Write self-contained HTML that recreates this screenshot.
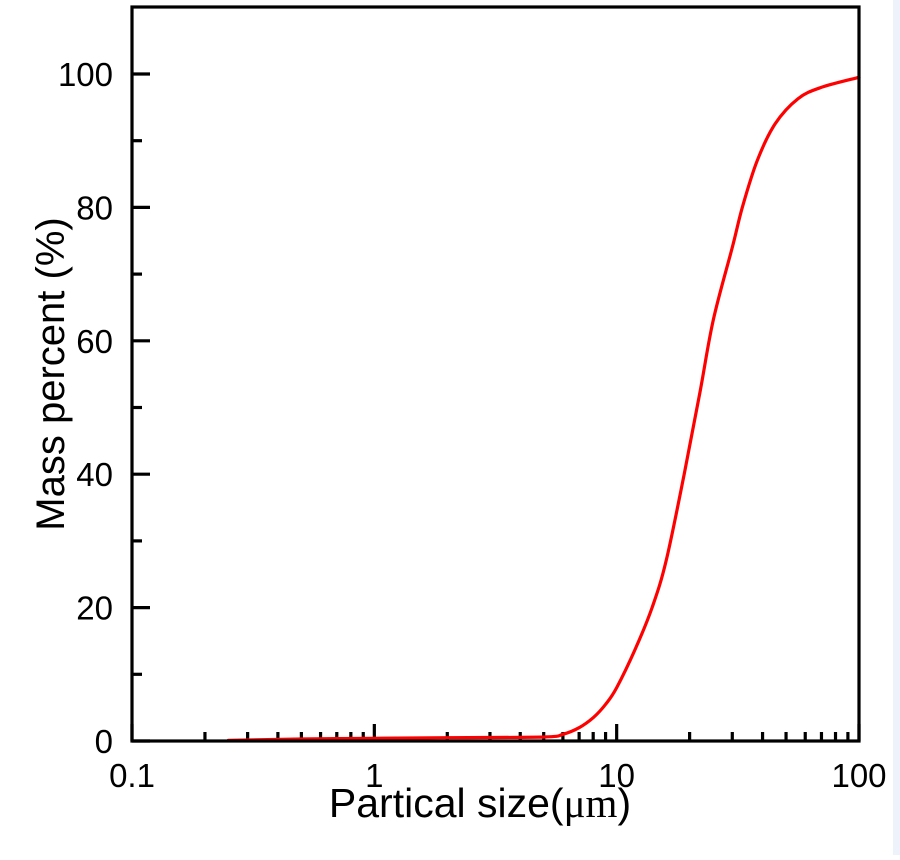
<!DOCTYPE html>
<html><head><meta charset="utf-8"><style>
html,body{margin:0;padding:0;background:#fff;}
svg text{font-family:"Liberation Sans",Arial,sans-serif;fill:#000;}
</style></head><body>
<svg width="900" height="855" viewBox="0 0 900 855" xmlns="http://www.w3.org/2000/svg">
<rect x="893" y="0" width="7" height="855" fill="#eef2fa"/>
<g id="ticks"></g>
<path id="curve" fill="none" stroke="#ff0000" stroke-width="3.2" stroke-linejoin="round" stroke-linecap="round"/>
<rect x="132" y="7" width="727" height="734" fill="none" stroke="#000" stroke-width="3.2"/>
<g id="labels"></g>
<text x="480" y="817" font-size="41" text-anchor="middle">Partical size(<tspan font-family="Liberation Serif,serif">μm</tspan>)</text>
<text transform="translate(64,374) rotate(-90)" font-size="40" text-anchor="middle">Mass percent (%)</text>
</svg>
<script>
const sizes=[0.25,0.5,1,2,5,6,7,8,9,10,12,14,16,19,22,25,30,33,38,45,56,70,100];
const massPercent=[0.1,0.3,0.4,0.5,0.6,1,2,3.5,5.5,8,14,20,27,40,52,63,74,80,87,92.5,96.3,98,99.5];
const xMajor=[0.1,1,10,100];
const xMajorLabels=["0.1","1","10","100"];
const yMajor=[0,20,40,60,80,100];
const yMinor=[10,30,50,70,90];
const L=132,R=859,B=741,T=7;
function xs(v){return L+(Math.log10(v)+1)/3*(R-L);}
function ys(v){return B-v/100*(B-74);}
const NS="http://www.w3.org/2000/svg";
const tg=document.getElementById('ticks'),lg=document.getElementById('labels');
function line(x1,y1,x2,y2,name){const l=document.createElementNS(NS,'line');l.setAttribute('x1',x1);l.setAttribute('y1',y1);l.setAttribute('x2',x2);l.setAttribute('y2',y2);l.setAttribute('stroke','#000');l.setAttribute('stroke-width','3.2');


tg.appendChild(l);}
function txt(x,y,s,anchor,name){const t=document.createElementNS(NS,'text');t.setAttribute('x',x);t.setAttribute('y',y);t.setAttribute('font-size','33');t.setAttribute('text-anchor',anchor);t.textContent=s;


lg.appendChild(t);}
xMajor.forEach((v,i)=>{line(xs(v),B,xs(v),B-17,'x-major-tick');txt(xs(v),787,xMajorLabels[i],'middle','x-tick-label');});
for(let d=0.1;d<100;d*=10){for(let k=2;k<=9;k++){const v=d*k;line(xs(v),B,xs(v),B-9,'x-minor-tick');}}
yMajor.forEach(v=>{line(L,ys(v),L+18,ys(v),'y-major-tick');txt(113,ys(v)+12,String(v),'end','y-tick-label');});
yMinor.forEach(v=>{line(L,ys(v),L+10,ys(v),'y-minor-tick');});
const pts=sizes.map((s,i)=>[xs(s),ys(massPercent[i])]);
let d='M'+pts[0][0].toFixed(1)+' '+pts[0][1].toFixed(1);
for(let i=0;i<pts.length-1;i++){const p0=pts[Math.max(0,i-1)],p1=pts[i],p2=pts[i+1],p3=pts[Math.min(pts.length-1,i+2)];
const c1=[p1[0]+(p2[0]-p0[0])/6,p1[1]+(p2[1]-p0[1])/6],c2=[p2[0]-(p3[0]-p1[0])/6,p2[1]-(p3[1]-p1[1])/6];
d+=' C'+c1.map(n=>n.toFixed(1)).join(' ')+' '+c2.map(n=>n.toFixed(1)).join(' ')+' '+p2[0].toFixed(1)+' '+p2[1].toFixed(1);}
document.getElementById('curve').setAttribute('d',d);
</script>
</body></html>
